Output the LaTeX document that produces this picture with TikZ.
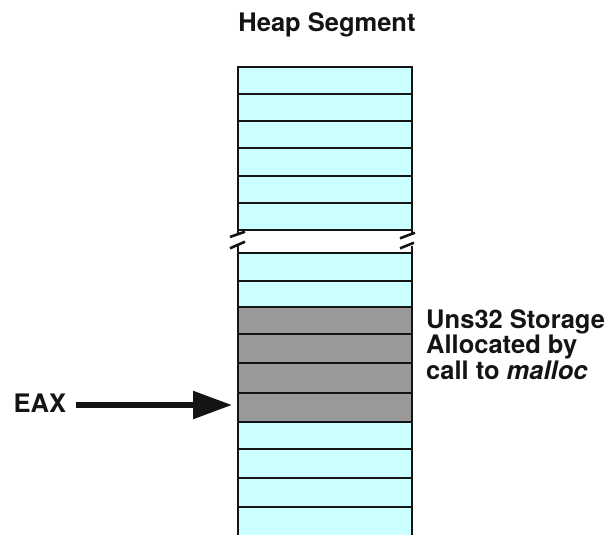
\documentclass[tikz,border=0pt]{standalone}
\usepackage{fontspec}
\setmainfont{TeX Gyre Heros}
\usetikzlibrary{arrows.meta,calc}
\definecolor{cyanfill}{HTML}{CCFFFF}
\definecolor{grayfill}{HTML}{999999}
\definecolor{ink}{HTML}{141414}
\begin{document}
\begin{tikzpicture}[x=1pt,y=-1pt,
  cell/.style={draw=ink, line width=2pt, fill=cyanfill, minimum width=173.7pt,
    inner sep=0pt, outer sep=0pt, anchor=north west},
  used/.style={cell, fill=grayfill},
  edge/.style={draw=ink, line width=2pt},
  brk/.style={draw=ink, line width=2.6pt},
  lbl/.style={font=\bfseries\fontsize{25.5}{22}\selectfont, text=ink, inner sep=0pt}]
\useasboundingbox (0,0) rectangle (616,535);

% upper part of the segment
\node[cell, minimum height=27.2pt] (u1) at (238,66.7) {};
\node[cell, minimum height=27.2pt] (u2) at (238,93.9) {};
\node[cell, minimum height=27.2pt] (u3) at (238,121.1) {};
\node[cell, minimum height=27.2pt] (u4) at (238,148.3) {};
\node[cell, minimum height=27.2pt] (u5) at (238,175.5) {};
\node[cell, minimum height=27.2pt] (u6) at (238,202.7) {};

% lower part of the segment
\node[cell, minimum height=27.4pt] (l1) at (238,253.3) {};
\node[cell, minimum height=26.6pt] (l2) at (238,280.7) {};
\node[used, minimum height=27pt]   (l3) at (238,307.3) {};
\node[used, minimum height=29pt]   (l4) at (238,334.3) {};
\node[used, minimum height=29.4pt] (l5) at (238,363.3) {};
\node[used, minimum height=29pt]   (l6) at (238,392.7) {};
\node[cell, minimum height=27.3pt] (l7) at (238,421.7) {};
\node[cell, minimum height=29pt]   (l8) at (238,449) {};
\node[cell, minimum height=29.3pt] (l9) at (238,478) {};
\node[cell, draw=none, minimum height=32pt] (l10) at (238,507.3) {};
\draw[edge] (l10.north west) -- (l10.south west);
\draw[edge] (l10.north east) -- (l10.south east);
\draw[edge] (l9.south west) -- (l9.south east);

% break stubs and marks
\draw[edge] (u6.south west) -- ++(0,4);
\draw[edge] (u6.south east) -- ++(0,4);
\draw[edge] (l1.north west) -- ++(0,-7);
\draw[edge] (l1.north east) -- ++(0,-7);
\draw[brk] ($(u6.south west)+(-8,7.1)$) -- ($(u6.south west)+(7,1.8)$);
\draw[brk] ($(u6.south west)+(-8,18.4)$) -- ($(u6.south west)+(7,11.8)$);
\draw[brk] ($(u6.south east)+(-11.7,8.4)$) -- ($(u6.south east)+(3.3,2.8)$);
\draw[brk] ($(u6.south east)+(-11.7,18.4)$) -- ($(u6.south east)+(2.3,12.8)$);

% texts
\node[lbl, anchor=base] (title) at (327,31.7) {Heap Segment};
\node[lbl, anchor=base west] (eax) at (13.5,412.7) {EAX};
\node[lbl, anchor=base west, align=left] (note) at (426,379)
  {Uns32 Storage\\Allocated by\\call to \textit{malloc}};

% pointer arrow
\draw[ink, line width=5.5pt, -{Triangle[length=39pt,width=27pt]}]
  ($(eax.east)+(10,1.6)$) -- ($(eax.east -| l6.west)+(-6,1.6)$);
\end{tikzpicture}
\end{document}
